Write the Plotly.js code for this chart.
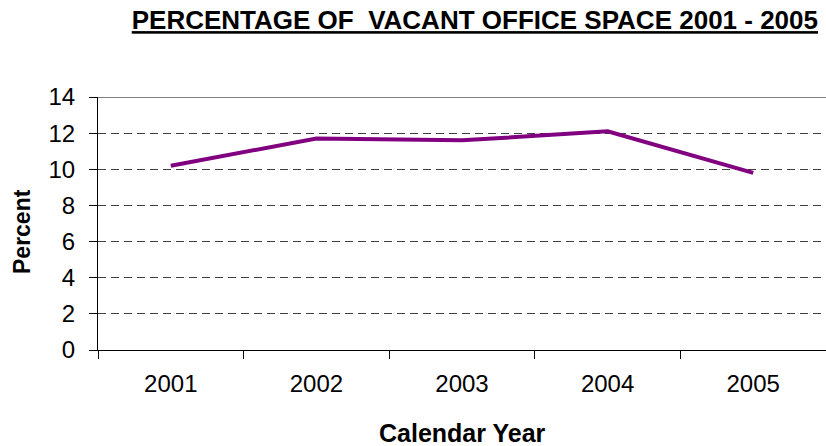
<!DOCTYPE html>
<html>
<head>
<meta charset="utf-8">
<script src="https://cdn.plot.ly/plotly-3.0.1.min.js"></script>
<style>html,body{margin:0;padding:0;background:#fff;}#chart{width:826px;height:446px;}</style>
</head>
<body>
<div id="chart"></div>
<script>
const years = ['2001', '2002', '2003', '2004', '2005'];
const vacancyPercent = [10.2, 11.7, 11.6, 12.1, 9.8];
const yTicks = [0, 2, 4, 6, 8, 10, 12, 14];
const chartTitle = 'PERCENTAGE OF  VACANT OFFICE SPACE 2001 - 2005';
const xTitle = 'Calendar Year';
const yTitle = 'Percent';

const font = 'Arial, "Liberation Sans", sans-serif';

const trace = {
  x: years,
  y: vacancyPercent,
  type: 'scatter',
  mode: 'lines',
  line: {color: '#800080', width: 4},
  hoverinfo: 'x+y'
};

const layout = {
  width: 826,
  height: 446,
  margin: {l: 98, r: 0, t: 97, b: 96},
  paper_bgcolor: '#ffffff',
  plot_bgcolor: '#ffffff',
  showlegend: false,
  font: {family: font, color: '#000000', size: 24},
  title: {
    text: '<b>' + chartTitle.replace(/  /g, '&nbsp; ') + '</b>',
    xref: 'container', yref: 'container',
    x: 818 / 826, xanchor: 'right',
    y: 1 - 20 / 446, yanchor: 'middle',
    font: {family: font, size: 26, color: '#000000', lineposition: 'under'}
  },
  xaxis: {
    type: 'category',
    range: [-0.5, 4.5],
    tickson: 'boundaries',
    ticks: 'outside',
    ticklen: 8,
    tickcolor: '#000000',
    tickwidth: 1,
    showline: true,
    linecolor: '#000000',
    linewidth: 1,
    showgrid: false,
    zeroline: false,
    ticklabelstandoff: 12,
    tickfont: {family: font, size: 24, color: '#000000'},
    fixedrange: true
  },
  yaxis: {
    range: [0, 14],
    tickvals: yTicks,
    ticks: 'outside',
    ticklen: 8,
    tickcolor: '#000000',
    tickwidth: 1,
    showline: true,
    linecolor: '#000000',
    linewidth: 1,
    showgrid: true,
    gridcolor: '#404040',
    gridwidth: 1,
    griddash: '8px,5px',
    zeroline: false,
    ticklabelstandoff: 9,
    tickfont: {family: font, size: 24, color: '#000000'},
    fixedrange: true
  },
  annotations: [
    {text: '<b>' + xTitle + '</b>', xref: 'paper', yref: 'paper',
     x: (462 - 98) / 728, y: (350 - 433) / 253, xanchor: 'center', yanchor: 'middle',
     showarrow: false, font: {family: font, size: 25, color: '#000000'}},
    {text: '<b>' + yTitle + '</b>', xref: 'paper', yref: 'paper', textangle: -90,
     x: (22 - 98) / 728, y: (350 - 232) / 253, xanchor: 'center', yanchor: 'middle',
     showarrow: false, font: {family: font, size: 23, color: '#000000'}}
  ],
  shapes: [
    {type: 'line', xref: 'paper', yref: 'y', x0: 0, x1: 1, y0: 14, y1: 14,
     line: {color: '#808080', width: 2}, layer: 'above'}
  ]
};

Plotly.newPlot('chart', [trace], layout, {staticPlot: true, displayModeBar: false});
</script>
</body>
</html>
